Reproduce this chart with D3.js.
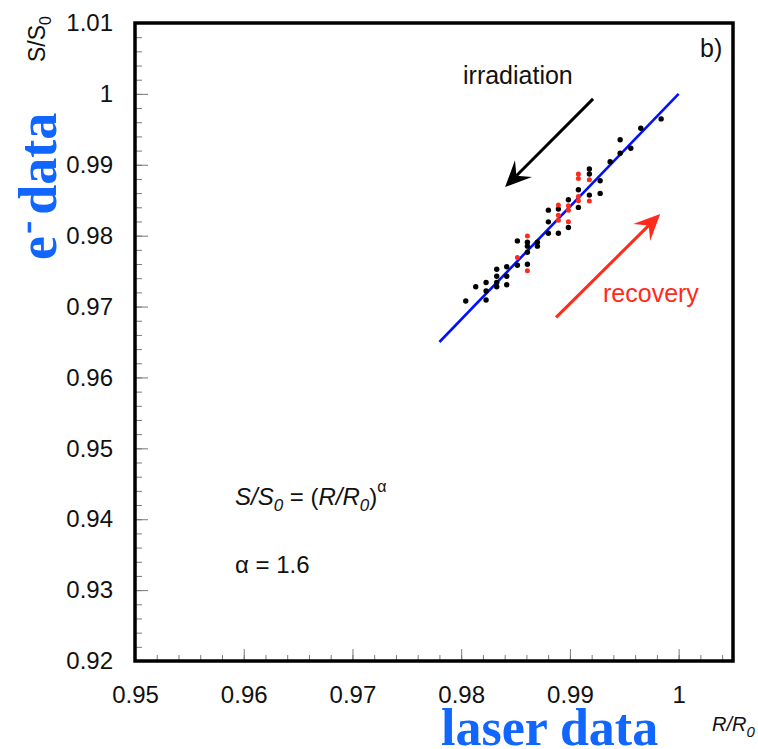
<!DOCTYPE html>
<html>
<head>
<meta charset="utf-8">
<script src="https://cdn.jsdelivr.net/npm/d3@7"></script>
<style>
  html, body { margin: 0; padding: 0; background: #fff; }
  svg { display: block; }
</style>
</head>
<body>
<div id="chart"></div>
<script>
// ---- data ----
const xTicks = [0.95, 0.96, 0.97, 0.98, 0.99, 1.0];
const xTickLabels = ["0.95", "0.96", "0.97", "0.98", "0.99", "1"];
const yTicks = [0.92, 0.93, 0.94, 0.95, 0.96, 0.97, 0.98, 0.99, 1.0, 1.01];
const yTickLabels = ["0.92", "0.93", "0.94", "0.95", "0.96", "0.97", "0.98", "0.99", "1", "1.01"];

// black points: irradiation
const blackR = [0.98042, 0.98134, 0.98229, 0.98229, 0.98229, 0.98327, 0.98327, 0.98327, 0.98327,
  0.98419, 0.98419, 0.98419, 0.98517, 0.98517, 0.98609, 0.98609, 0.98609, 0.98609,
  0.98701, 0.98701, 0.98802, 0.98802, 0.98802, 0.98894, 0.98894, 0.98986, 0.98986,
  0.99078, 0.99078, 0.99179, 0.99179, 0.99179, 0.99278, 0.99278, 0.99370,
  0.99462, 0.99462, 0.99560, 0.99652, 0.99839];
const blackS = [0.97078, 0.97279, 0.97339, 0.97220, 0.97093, 0.97527, 0.97428, 0.97339, 0.97279,
  0.97562, 0.97428, 0.97307, 0.97926, 0.97583, 0.97908, 0.97852, 0.97767, 0.97597,
  0.97908, 0.97852, 0.98360, 0.98195, 0.98035, 0.98375, 0.98035, 0.98506, 0.98116,
  0.98647, 0.98399, 0.98940, 0.98869, 0.98572, 0.98775, 0.98596, 0.99043,
  0.99354, 0.99162, 0.99233, 0.99515, 0.99647];

// red points: recovery
const redR = [0.98517, 0.98609, 0.98609, 0.98894, 0.98894, 0.98894, 0.98986, 0.98986, 0.98986,
  0.99078, 0.99078, 0.99078, 0.99078, 0.99179, 0.99179];
const redS = [0.97692, 0.97997, 0.97505, 0.98431, 0.98289, 0.98219, 0.98421, 0.98360, 0.98195,
  0.98869, 0.98808, 0.98554, 0.98492, 0.98789, 0.98488];

// fitted line S/S0 = (R/R0)^1.6, end points
const fitR = [0.978, 1.0];
const fitS = [0.9650, 1.0];

// arrows [tailR, tailS, tipR, tipS]
const irradArrow = [0.99213, 0.99929, 0.98404, 0.98686];
const recovArrow = [0.98873, 0.96848, 0.99830, 0.98304];

// ---- drawing ----
const W = 758, H = 749;
const frame = { left: 135, right: 733, top: 23, bottom: 661 };
const SANS = "'Liberation Sans', Arial, Helvetica, sans-serif";
const SERIF = "'Liberation Serif', 'Times New Roman', serif";
const BLUE = "#1166ff";
const RED = "#ff2a1a";

const svg = d3.select("#chart").append("svg")
  .attr("width", W).attr("height", H)
  .attr("viewBox", `0 0 ${W} ${H}`);

const x = d3.scaleLinear().domain([0.95, 1.005]).range([frame.left, frame.right]);
const y = d3.scaleLinear().domain([0.92, 1.01]).range([frame.bottom, frame.top]);

const minorX = d3.range(0, 28).map(i => +(0.95 + i * 0.002).toFixed(3)).filter(v => v <= 1.005);
const minorY = d3.range(0, 46).map(i => +(0.92 + i * 0.002).toFixed(3)).filter(v => v <= 1.01);

const styleAxis = g => {
  g.select(".domain").remove();
  g.selectAll("line").attr("stroke", "#7a7a7a").attr("stroke-width", 1);
  g.selectAll("text").attr("fill", "#111").style("font-family", SANS).style("font-size", "24px");
};

// minor ticks
svg.append("g").attr("transform", `translate(0,${frame.bottom})`)
  .call(d3.axisBottom(x).tickValues(minorX).tickSize(-6).tickFormat(""))
  .call(styleAxis);
svg.append("g").attr("transform", `translate(${frame.left},0)`)
  .call(d3.axisLeft(y).tickValues(minorY).tickSize(-7).tickFormat(""))
  .call(styleAxis);

// major ticks + labels
svg.append("g").attr("transform", `translate(0,${frame.bottom})`)
  .call(d3.axisBottom(x).tickValues(xTicks).tickSize(-12).tickPadding(25)
    .tickFormat((d, i) => xTickLabels[i]))
  .call(styleAxis);
svg.append("g").attr("transform", `translate(${frame.left},0)`)
  .call(d3.axisLeft(y).tickValues(yTicks).tickSize(-13).tickPadding(22)
    .tickFormat((d, i) => yTickLabels[i]))
  .call(styleAxis);

// frame
svg.append("rect")
  .attr("x", frame.left).attr("y", frame.top)
  .attr("width", frame.right - frame.left).attr("height", frame.bottom - frame.top)
  .attr("fill", "none").attr("stroke", "#000").attr("stroke-width", 3.5);

// fit line
const fit = fitR.map((r, i) => [r, fitS[i]]);
svg.append("path")
  .datum(fit)
  .attr("fill", "none")
  .attr("stroke", "#0010ff")
  .attr("stroke-width", 2.6)
  .attr("d", d3.line().x(d => x(d[0])).y(d => y(d[1])));

// points
svg.selectAll("circle.blk")
  .data(blackR.map((r, i) => [r, blackS[i]]))
  .enter().append("circle")
  .attr("class", "blk")
  .attr("cx", d => x(d[0])).attr("cy", d => y(d[1]))
  .attr("r", 2.7).attr("fill", "#000");

svg.selectAll("circle.red")
  .data(redR.map((r, i) => [r, redS[i]]))
  .enter().append("circle")
  .attr("class", "red")
  .attr("cx", d => x(d[0])).attr("cy", d => y(d[1]))
  .attr("r", 2.5).attr("fill", RED);

// arrows
function arrow(a, color) {
  const x0 = x(a[0]), y0 = y(a[1]), x1 = x(a[2]), y1 = y(a[3]);
  const len = Math.hypot(x1 - x0, y1 - y0);
  const ux = (x1 - x0) / len, uy = (y1 - y0) / len;
  const px = -uy, py = ux;
  const L = 26, Wd = 12, notch = 16;
  svg.append("line")
    .attr("x1", x0).attr("y1", y0)
    .attr("x2", x1 - ux * notch).attr("y2", y1 - uy * notch)
    .attr("stroke", color).attr("stroke-width", 3);
  const pts = [
    [x1, y1],
    [x1 - ux * L + px * Wd, y1 - uy * L + py * Wd],
    [x1 - ux * notch, y1 - uy * notch],
    [x1 - ux * L - px * Wd, y1 - uy * L - py * Wd]
  ];
  svg.append("path")
    .attr("d", "M" + pts.map(p => p.join(",")).join("L") + "Z")
    .attr("fill", color);
}
arrow(irradArrow, "#000");
arrow(recovArrow, RED);

// annotations
svg.append("text")
  .attr("x", 463).attr("y", 84)
  .style("font-family", SANS).style("font-size", "25px").attr("fill", "#111")
  .text("irradiation");

svg.append("text")
  .attr("x", 603).attr("y", 302)
  .style("font-family", SANS).style("font-size", "25px").attr("fill", RED)
  .text("recovery");

svg.append("text")
  .attr("x", 700).attr("y", 57)
  .style("font-family", SANS).style("font-size", "25px").attr("fill", "#111")
  .text("b)");

// formula
const f = svg.append("text")
  .attr("x", 235).attr("y", 505)
  .style("font-family", SANS).style("font-size", "24px").attr("fill", "#111");
f.append("tspan").style("font-style", "italic").text("S/S");
f.append("tspan").style("font-style", "italic").style("font-size", "17px").attr("dy", 6).text("0");
f.append("tspan").attr("dy", -6).text(" = (");
f.append("tspan").style("font-style", "italic").text("R/R");
f.append("tspan").style("font-style", "italic").style("font-size", "17px").attr("dy", 6).text("0");
f.append("tspan").attr("dy", -6).text(")");
f.append("tspan").style("font-size", "16px").attr("dy", -13).text("α");

svg.append("text")
  .attr("x", 235).attr("y", 573)
  .style("font-family", SANS).style("font-size", "24px").attr("fill", "#111")
  .text("α = 1.6");

// axis titles
const yt = svg.append("text")
  .attr("transform", "translate(45,62) rotate(-90)")
  .style("font-family", SANS).style("font-size", "23px").attr("fill", "#111");
yt.append("tspan").text("S/S");
yt.append("tspan").style("font-size", "16px").attr("dy", 6).text("0");

const xt = svg.append("text")
  .attr("x", 712).attr("y", 731)
  .style("font-family", SANS).style("font-size", "20px").style("font-style", "italic").attr("fill", "#111");
xt.append("tspan").text("R/R");
xt.append("tspan").style("font-size", "15px").attr("dy", 6).text("0");

// blue titles
const et = svg.append("text")
  .attr("transform", "translate(56,260) rotate(-90)")
  .style("font-family", SERIF).style("font-size", "54px").style("font-weight", "bold").attr("fill", BLUE);
et.append("tspan").text("e");
et.append("tspan").style("font-size", "40px").attr("dx", 2).attr("dy", -17).text("-");
et.append("tspan").attr("dy", 17).attr("dx", 6).text("data");

svg.append("text")
  .attr("x", 441).attr("y", 745)
  .style("font-family", SERIF).style("font-size", "52px").style("font-weight", "bold").attr("fill", BLUE)
  .text("laser data");
</script>
</body>
</html>
